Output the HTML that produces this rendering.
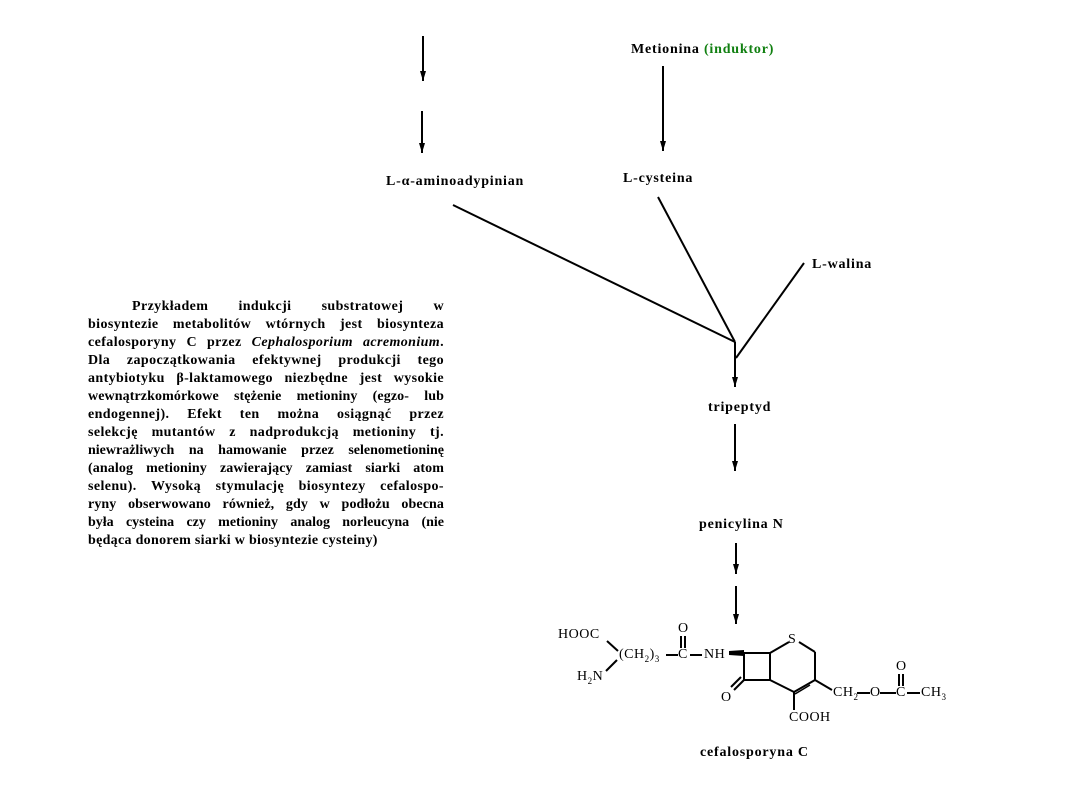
<!DOCTYPE html>
<html><head><meta charset="utf-8"><style>
html,body{margin:0;padding:0;background:#fff;}
body{width:1080px;height:810px;position:relative;overflow:hidden;font-family:"Liberation Serif",serif;font-weight:bold;color:#000;}
.t{position:absolute;font-size:14px;letter-spacing:0.8px;white-space:nowrap;}
.s{position:absolute;font-size:14px;white-space:nowrap;font-weight:normal;letter-spacing:0.5px;}
.p{position:absolute;left:88px;width:356px;font-size:14px;letter-spacing:0.4px;text-align:justify;text-align-last:justify;white-space:nowrap;line-height:18px;}
svg{position:absolute;left:0;top:0;}
sub{font-size:9px;}
</style></head><body>
<svg width="1080" height="810" viewBox="0 0 1080 810">
<defs><marker id="a" markerWidth="10" markerHeight="6" refX="10" refY="3" orient="auto" markerUnits="userSpaceOnUse"><path d="M0,0 L10,3 L0,6 Z" fill="#000"/></marker></defs>
<g stroke="#000" stroke-width="2" fill="none">
<line x1="423" y1="36" x2="423" y2="81" marker-end="url(#a)"/>
<line x1="422" y1="111" x2="422" y2="153" marker-end="url(#a)"/>
<line x1="663" y1="66" x2="663" y2="151" marker-end="url(#a)"/>
<line x1="453" y1="205" x2="735" y2="342"/>
<line x1="658" y1="197" x2="735" y2="342"/>
<line x1="804" y1="263" x2="736" y2="358"/>
<line x1="735" y1="342" x2="735" y2="387" marker-end="url(#a)"/>
<line x1="735" y1="424" x2="735" y2="471" marker-end="url(#a)"/>
<line x1="736" y1="543" x2="736" y2="574" marker-end="url(#a)"/>
<line x1="736" y1="586" x2="736" y2="624" marker-end="url(#a)"/>
<line x1="607" y1="641" x2="618" y2="651"/>
<line x1="617" y1="660" x2="606" y2="671"/>
<line x1="666" y1="655" x2="678" y2="655"/>
<line x1="681" y1="636" x2="681" y2="648"/><line x1="685" y1="636" x2="685" y2="648"/>
<line x1="690" y1="655" x2="702" y2="655"/>
<line x1="744" y1="653" x2="770" y2="653"/>
<line x1="770" y1="653" x2="770" y2="680"/>
<line x1="744" y1="653" x2="744" y2="680"/>
<line x1="744" y1="680" x2="770" y2="680"/>
<line x1="770" y1="653" x2="789" y2="642"/>
<line x1="799" y1="642" x2="815" y2="652"/>
<line x1="815" y1="652" x2="815" y2="680"/>
<line x1="815" y1="680" x2="794" y2="692"/>
<line x1="810" y1="685" x2="795" y2="694" stroke-width="1.5"/>
<line x1="794" y1="692" x2="770" y2="680"/>
<line x1="794" y1="692" x2="794" y2="710"/>
<line x1="744" y1="680" x2="734" y2="690"/><line x1="741" y1="677" x2="731" y2="687"/>
<line x1="815" y1="680" x2="832" y2="690"/>
<line x1="857" y1="693" x2="870" y2="693"/>
<line x1="880" y1="693" x2="896" y2="693"/>
<line x1="899" y1="674" x2="899" y2="686"/><line x1="903" y1="674" x2="903" y2="686"/>
<line x1="907" y1="693" x2="920" y2="693"/>
</g>
<path d="M729,651 L744,650 L744,656 L729,655 Z" fill="#000"/>
</svg>
<div class="t" style="left:631px;top:42px;">Metionina <span style="color:#118011">(induktor)</span></div>
<div class="t" style="left:386px;top:174px;">L-α-aminoadypinian</div>
<div class="t" style="left:623px;top:171px;">L-cysteina</div>
<div class="t" style="left:812px;top:257px;">L-walina</div>
<div class="t" style="left:708px;top:400px;">tripeptyd</div>
<div class="t" style="left:699px;top:517px;">penicylina N</div>
<div class="t" style="left:700px;top:745px;">cefalosporyna C</div>
<div class="s" style="left:558px;top:627px;">HOOC</div>
<div class="s" style="left:619px;top:647px;">(CH<sub>2</sub>)<sub>3</sub></div>
<div class="s" style="left:678px;top:621px;">O</div>
<div class="s" style="left:678px;top:647px;">C</div>
<div class="s" style="left:704px;top:647px;">NH</div>
<div class="s" style="left:577px;top:669px;">H<sub>2</sub>N</div>
<div class="s" style="left:788px;top:632px;">S</div>
<div class="s" style="left:721px;top:690px;">O</div>
<div class="s" style="left:789px;top:710px;">COOH</div>
<div class="s" style="left:833px;top:685px;">CH<sub>2</sub></div>
<div class="s" style="left:870px;top:685px;">O</div>
<div class="s" style="left:896px;top:659px;">O</div>
<div class="s" style="left:896px;top:685px;">C</div>
<div class="s" style="left:921px;top:685px;">CH<sub>3</sub></div>
<div class="p" style="top:298px;"><span style="display:inline-block;width:44px"></span>Przykładem indukcji substratowej w</div>
<div class="p" style="top:316px;">biosyntezie metabolitów wtórnych jest biosynteza</div>
<div class="p" style="top:334px;">cefalosporyny C przez <i>Cephalosporium acremonium</i>.</div>
<div class="p" style="top:352px;">Dla zapoczątkowania efektywnej produkcji tego</div>
<div class="p" style="top:370px;">antybiotyku β-laktamowego niezbędne jest wysokie</div>
<div class="p" style="top:388px;letter-spacing:0.1px;">wewnątrzkomórkowe stężenie metioniny (egzo- lub</div>
<div class="p" style="top:406px;">endogennej). Efekt ten można osiągnąć przez</div>
<div class="p" style="top:424px;">selekcję mutantów z nadprodukcją metioniny tj.</div>
<div class="p" style="top:442px;letter-spacing:0px;">niewrażliwych na hamowanie przez selenometioninę</div>
<div class="p" style="top:460px;letter-spacing:0.1px;">(analog metioniny zawierający zamiast siarki atom</div>
<div class="p" style="top:478px;">selenu). Wysoką stymulację biosyntezy cefalospo-</div>
<div class="p" style="top:496px;letter-spacing:0.1px;">ryny obserwowano również, gdy w podłożu obecna</div>
<div class="p" style="top:514px;letter-spacing:0px;">była cysteina czy metioniny analog norleucyna (nie</div>
<div class="p" style="top:532px;text-align-last:left;width:auto;letter-spacing:0.3px;">będąca donorem siarki w biosyntezie cysteiny)</div>
</body></html>
